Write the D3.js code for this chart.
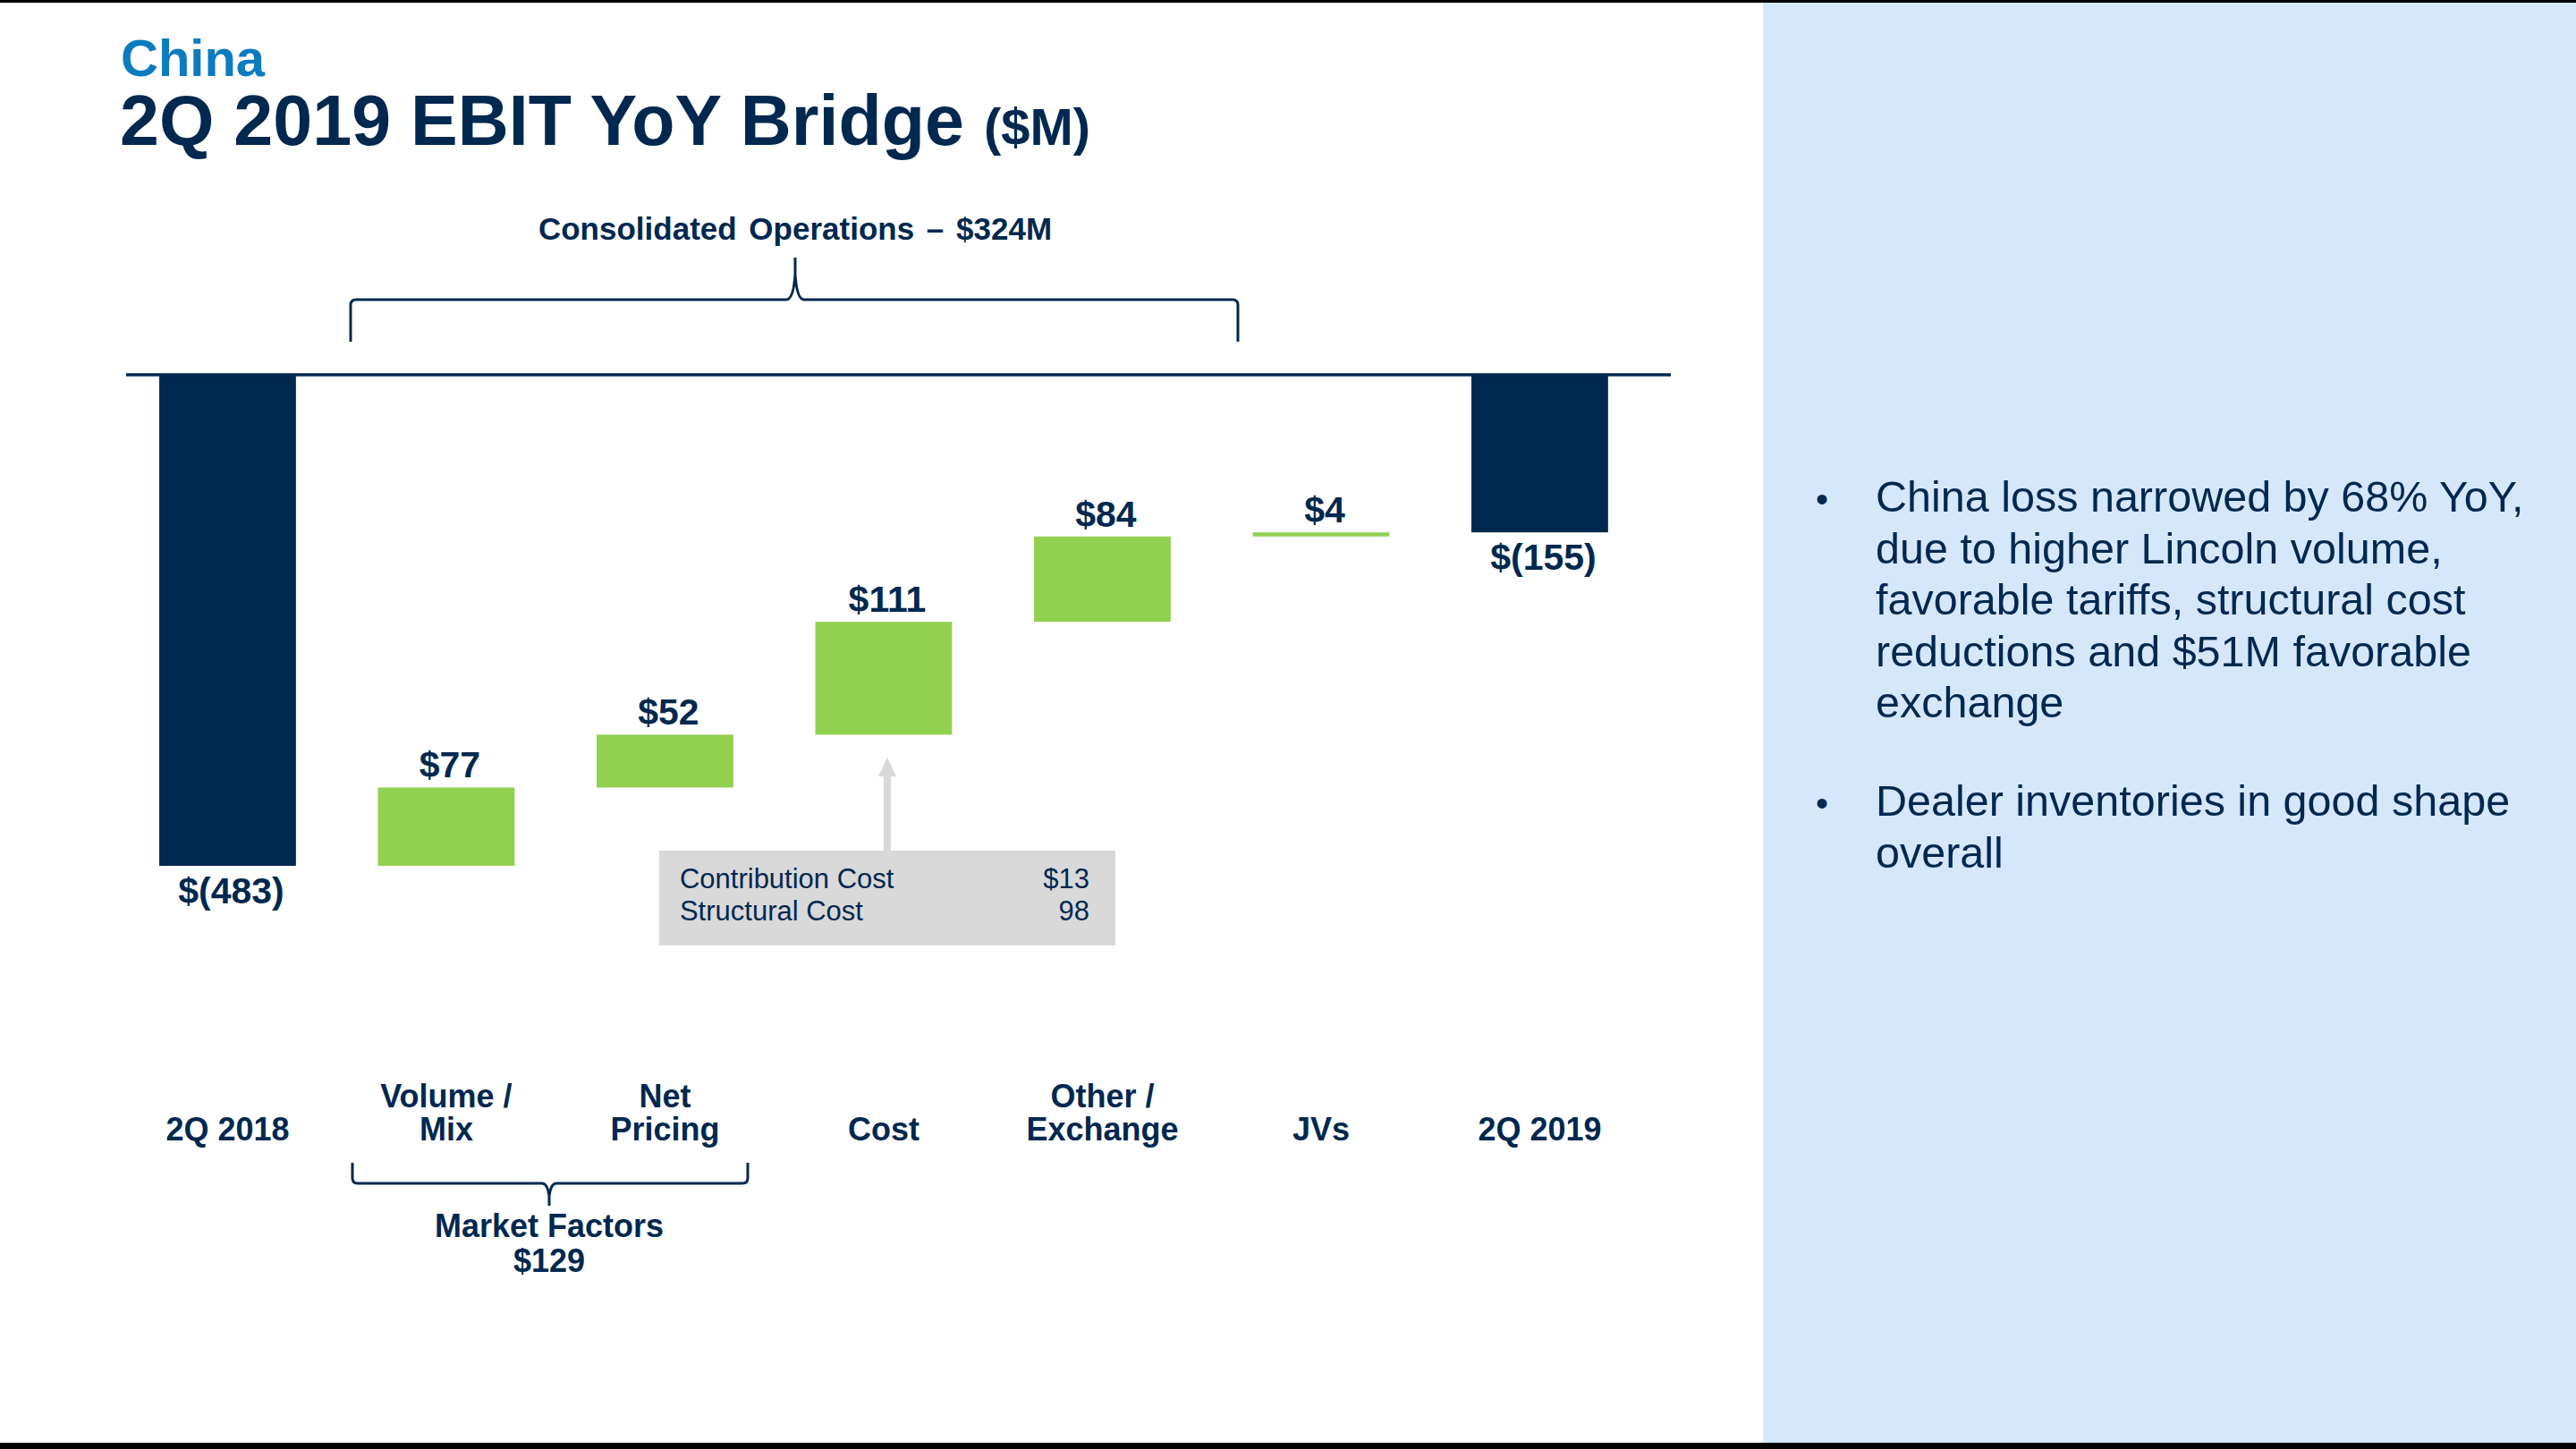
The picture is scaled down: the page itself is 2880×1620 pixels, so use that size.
<!DOCTYPE html>
<html>
 <head>
    <style>
        body, svg {
          font-family: 'Liberation Sans', Arial, sans-serif;
          margin: 0;
          background: #ffffff;
        }
        svg { display: block; }
    </style>
    <script src="https://d3js.org/d3.v7.min.js"></script>
 </head>
 <body>
    <div id="svgcontainer"></div>
    <script>
        // bridge data ($M)
        var categories = ["2Q 2018", "Volume / Mix", "Net Pricing", "Cost", "Other / Exchange", "JVs", "2Q 2019"];
        var catLines = [["2Q 2018"], ["Volume /", "Mix"], ["Net", "Pricing"], ["Cost"], ["Other /", "Exchange"], ["JVs"], ["2Q 2019"]];
        var values = [-483, 77, 52, 111, 84, 4, -155];
        var isTotal = [true, false, false, false, false, false, true];
        var valueLabels = ["$(483)", "$77", "$52", "$111", "$84", "$4", "$(155)"];

        var costDetailNames = ["Contribution Cost", "Structural Cost"];
        var costDetailValues = ["$13", "98"];

        var bulletLines = [
            ["China loss narrowed by 68% YoY,", "due to higher Lincoln volume,", "favorable tariffs, structural cost", "reductions and $51M favorable", "exchange"],
            ["Dealer inventories in good shape", "overall"]
        ];

        const W = 2880, H = 1620;
        const navy = "#01284f", green = "#92d050", grey = "#d9d9d9";

        var svg = d3.select("#svgcontainer").append("svg")
            .attr("width", W).attr("height", H);

        svg.append("rect").attr("width", W).attr("height", H).attr("fill", "#ffffff");
        // right panel
        svg.append("rect").attr("x", 1971).attr("y", 0).attr("width", W - 1971).attr("height", H).attr("fill", "#d5e7fb");
        // frame lines top and bottom
        svg.append("rect").attr("x", 0).attr("y", 0).attr("width", W).attr("height", 3).attr("fill", "#000");
        svg.append("rect").attr("x", 0).attr("y", 1613).attr("width", W).attr("height", 7).attr("fill", "#000");

        // titles
        svg.append("text").attr("x", 135).attr("y", 85)
            .attr("font-size", 58).attr("font-weight", "bold").attr("fill", "#0d7bbf").text("China");
        var title = svg.append("text").attr("x", 134).attr("y", 162)
            .attr("font-weight", "bold").attr("fill", navy);
        title.append("tspan").attr("font-size", 79).text("2Q 2019 EBIT YoY Bridge ");
        title.append("tspan").attr("font-size", 58).text("($M)");

        // scales
        var x = d3.scaleBand().domain(categories).range([132.2, 1843.7]).paddingInner(0.375).paddingOuter(0.1875);
        var y = d3.scaleLinear().domain([0, -483]).range([419, 968]);

        // running totals
        var bars = [];
        var run = 0;
        categories.forEach(function (c, i) {
            var start, end;
            if (isTotal[i]) { start = 0; end = values[i]; run = values[i]; }
            else { start = run; end = run + values[i]; run = end; }
            bars.push({cat: c, start: start, end: end, total: isTotal[i], label: valueLabels[i], lines: catLines[i]});
        });

        svg.selectAll("rect.bar").data(bars).enter().append("rect")
            .attr("class", "bar")
            .attr("x", d => x(d.cat))
            .attr("width", x.bandwidth())
            .attr("y", d => y(Math.max(d.start, d.end)))
            .attr("height", d => Math.abs(y(d.start) - y(d.end)))
            .attr("fill", d => d.total ? navy : green);

        // zero line
        svg.append("line").attr("x1", 141).attr("x2", 1868).attr("y1", y(0)).attr("y2", y(0))
            .attr("stroke", navy).attr("stroke-width", 3.5);

        // value labels
        svg.selectAll("text.val").data(bars).enter().append("text")
            .attr("class", "val")
            .attr("x", d => x(d.cat) + x.bandwidth() / 2 + 4)
            .attr("y", d => d.total ? y(d.end) + 42 : y(Math.max(d.start, d.end)) - 11)
            .attr("text-anchor", "middle")
            .attr("font-size", 41).attr("font-weight", "bold").attr("fill", navy)
            .text(d => d.label);

        // category labels
        var cl = svg.selectAll("text.cat").data(bars).enter().append("text")
            .attr("class", "cat")
            .attr("text-anchor", "middle")
            .attr("font-size", 36).attr("font-weight", "bold").attr("fill", navy);
        cl.each(function (d) {
            var t = d3.select(this);
            var n = d.lines.length;
            d.lines.forEach(function (ln, k) {
                t.append("tspan").attr("x", x(d.cat) + x.bandwidth() / 2)
                    .attr("y", 1275 - (n - 1 - k) * 37).text(ln);
            });
        });

        // braces
        function braceDown(x0, x1, xt, yEnd, yH, yTip) {
            // ends hang below, tip points up
            var r = 6, s = 10;
            return "M" + x0 + "," + yEnd +
                " L" + x0 + "," + (yH + r) +
                " Q" + x0 + "," + yH + " " + (x0 + r) + "," + yH +
                " L" + (xt - s) + "," + yH +
                " Q" + (xt - 2) + "," + yH + " " + xt + "," + (yH - 28) +
                " L" + xt + "," + yTip +
                " M" + xt + "," + (yH - 28) +
                " Q" + (xt + 2) + "," + yH + " " + (xt + s) + "," + yH +
                " L" + (x1 - r) + "," + yH +
                " Q" + x1 + "," + yH + " " + x1 + "," + (yH + r) +
                " L" + x1 + "," + yEnd;
        }
        function braceUp(x0, x1, xt, yEnd, yH, yTip) {
            var r = 6, s = 8;
            return "M" + x0 + "," + yEnd +
                " L" + x0 + "," + (yH - r) +
                " Q" + x0 + "," + yH + " " + (x0 + r) + "," + yH +
                " L" + (xt - s) + "," + yH +
                " Q" + (xt - 2) + "," + yH + " " + xt + "," + (yH + 14) +
                " L" + xt + "," + yTip +
                " M" + xt + "," + (yH + 14) +
                " Q" + (xt + 2) + "," + yH + " " + (xt + s) + "," + yH +
                " L" + (x1 - r) + "," + yH +
                " Q" + x1 + "," + yH + " " + x1 + "," + (yH - r) +
                " L" + x1 + "," + yEnd;
        }

        svg.append("path").attr("d", braceDown(392, 1384, 889, 382, 335, 288))
            .attr("fill", "none").attr("stroke", navy).attr("stroke-width", 3);
        svg.append("text").attr("x", 889).attr("y", 268).attr("text-anchor", "middle")
            .attr("font-size", 35).attr("font-weight", "bold").attr("fill", navy)
            .attr("word-spacing", 4)
            .text("Consolidated Operations \u2013 $324M");

        svg.append("path").attr("d", braceUp(394, 836, 614, 1300, 1323, 1348))
            .attr("fill", "none").attr("stroke", navy).attr("stroke-width", 3);
        var mf = svg.append("text").attr("text-anchor", "middle")
            .attr("font-size", 36).attr("font-weight", "bold").attr("fill", navy);
        mf.append("tspan").attr("x", 614).attr("y", 1383).text("Market Factors");
        mf.append("tspan").attr("x", 614).attr("y", 1422).text("$129");

        // cost callout
        var cx = x("Cost") + x.bandwidth() / 2 + 4;
        svg.append("rect").attr("x", cx - 255).attr("y", 951).attr("width", 510).attr("height", 106).attr("fill", grey);
        svg.append("rect").attr("x", cx - 4).attr("y", 866).attr("width", 8).attr("height", 86).attr("fill", grey);
        svg.append("path").attr("d", "M" + (cx - 10) + ",868 L" + (cx + 10) + ",868 L" + cx + ",847 Z").attr("fill", grey);
        costDetailNames.forEach(function (nm, i) {
            svg.append("text").attr("x", cx - 232).attr("y", 993 + i * 36)
                .attr("font-size", 31).attr("fill", navy).text(nm);
            svg.append("text").attr("x", cx + 226).attr("y", 993 + i * 36).attr("text-anchor", "end")
                .attr("font-size", 31).attr("fill", navy).text(costDetailValues[i]);
        });

        // bullets
        var by = [572, 912];
        bulletLines.forEach(function (lines, b) {
            svg.append("text").attr("x", 2030).attr("y", by[b]).attr("font-size", 40).attr("fill", navy).text("\u2022");
            lines.forEach(function (ln, k) {
                svg.append("text").attr("x", 2097).attr("y", by[b] + k * 57.5)
                    .attr("font-size", 48.5).attr("fill", navy).text(ln);
            });
        });
    </script>
 </body>
 </html>
